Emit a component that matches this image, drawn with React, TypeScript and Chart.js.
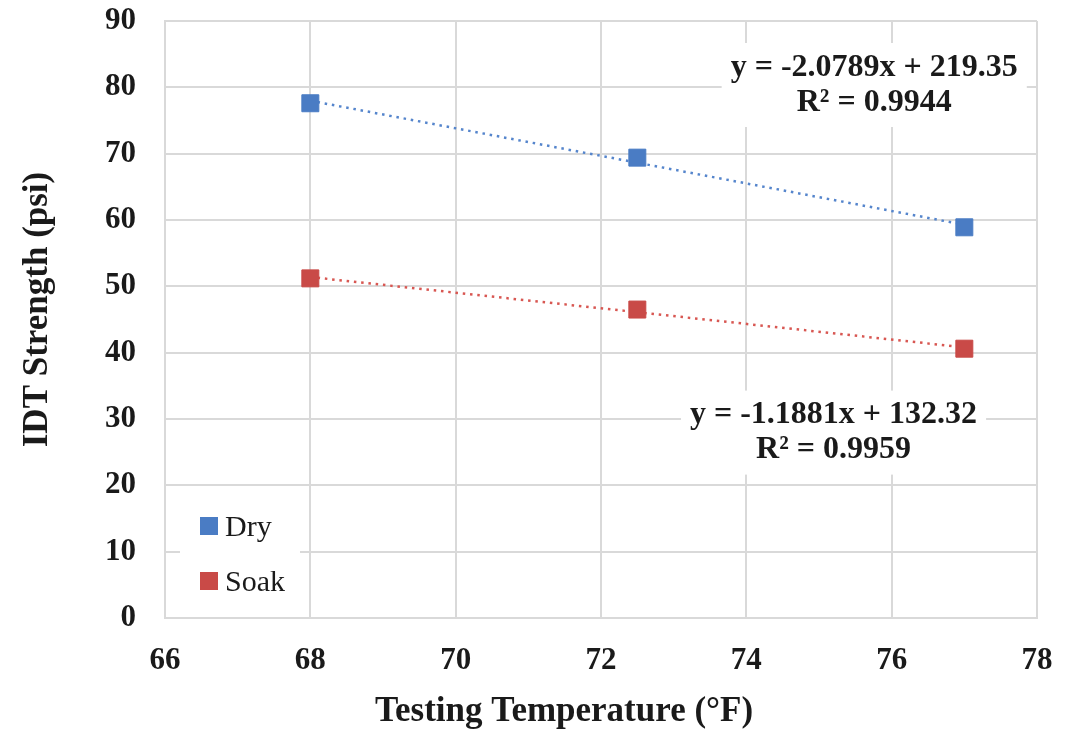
import React, { useEffect, useRef } from "react";
import { Chart, registerables } from "chart.js";

Chart.register(...registerables);

const temperatures = [68, 72.5, 77];
const dryStrength = [77.6, 69.4, 58.9];
const soakStrength = [51.2, 46.5, 40.6];
const xTicks = [66, 68, 70, 72, 74, 76, 78];
const yTicks = [0, 10, 20, 30, 40, 50, 60, 70, 80, 90];
const xTitle = "Testing Temperature (°F)";
const yTitle = "IDT Strength (psi)";
const dryEquation = ["y = -2.0789x + 219.35", "R² = 0.9944"];
const soakEquation = ["y = -1.1881x + 132.32", "R² = 0.9959"];

const DRY_COLOR = "#4a7cc4";
const SOAK_COLOR = "#c94a47";
const DRY_TREND = "#5585cc";
const SOAK_TREND = "#d85752";
const GRID = "#d9d9d9";
const TEXT = "#1a1a1a";
const SERIF = "'Liberation Serif', 'Times New Roman', serif";

function linearFit(xs: number[], ys: number[]) {
  const n = xs.length;
  const mx = xs.reduce((a, b) => a + b, 0) / n;
  const my = ys.reduce((a, b) => a + b, 0) / n;
  let sxy = 0;
  let sxx = 0;
  for (let i = 0; i < n; i++) {
    sxy += (xs[i] - mx) * (ys[i] - my);
    sxx += (xs[i] - mx) * (xs[i] - mx);
  }
  const slope = sxy / sxx;
  const intercept = my - slope * mx;
  return (x: number) => slope * x + intercept;
}

const overlayPlugin = {
  id: "overlay",
  beforeDatasetsDraw(chart: any) {
    const { ctx, scales } = chart;
    const labels = [
      { lines: dryEquation, x: 75.76, y: 80.35 },
      { lines: soakEquation, x: 75.2, y: 27.95 },
    ];
    ctx.save();
    ctx.font = `bold 32px ${SERIF}`;
    ctx.textAlign = "center";
    ctx.textBaseline = "middle";
    const lineGap = 35;
    labels.forEach((lab) => {
      const cx = scales.x.getPixelForValue(lab.x);
      const cy = scales.y.getPixelForValue(lab.y);
      const w = Math.max(...lab.lines.map((l) => ctx.measureText(l).width)) + 18;
      const h = lineGap * lab.lines.length + 14;
      ctx.fillStyle = "#ffffff";
      ctx.fillRect(cx - w / 2, cy - h / 2, w, h);
      ctx.fillStyle = TEXT;
      lab.lines.forEach((l, i) => {
        ctx.fillText(l, cx, cy + (i - (lab.lines.length - 1) / 2) * lineGap);
      });
    });

    // legend inside plot area
    const items = chart.data.datasets.filter((d: any) => d.showInLegend);
    const area = chart.chartArea;
    const bx = area.left + 15;
    const by = area.bottom - 123;
    const bw = 120;
    const bh = 110;
    ctx.fillStyle = "#ffffff";
    ctx.fillRect(bx, by, bw, bh);
    ctx.font = `30px ${SERIF}`;
    ctx.textAlign = "left";
    items.forEach((d: any, i: number) => {
      const cy = by + 31 + i * 55;
      ctx.fillStyle = d.backgroundColor;
      ctx.fillRect(bx + 20, cy - 9, 18, 18);
      ctx.fillStyle = TEXT;
      ctx.fillText(d.label, bx + 45, cy + 2);
    });

    // axis titles
    ctx.fillStyle = TEXT;
    ctx.font = `bold 35px ${SERIF}`;
    ctx.textAlign = "center";
    ctx.fillText(xTitle, chart.width / 2 + 26, chart.height - 18);
    ctx.translate(38, (area.top + area.bottom) / 2 - 10);
    ctx.rotate(-Math.PI / 2);
    ctx.fillText(yTitle, 0, 0);
    ctx.restore();
  },
};

export default function App() {
  const canvasRef = useRef<HTMLCanvasElement | null>(null);

  useEffect(() => {
    if (!canvasRef.current) return;
    const dryFit = linearFit(temperatures, dryStrength);
    const soakFit = linearFit(temperatures, soakStrength);
    const x0 = temperatures[0];
    const x1 = temperatures[temperatures.length - 1];

    const chart = new Chart(canvasRef.current, {
      type: "scatter",
      data: {
        datasets: [
          {
            label: "Dry",
            showInLegend: true,
            data: temperatures.map((t, i) => ({ x: t, y: dryStrength[i] })),
            backgroundColor: DRY_COLOR,
            borderColor: DRY_COLOR,
            pointStyle: "rect",
            pointRadius: 12,
            borderWidth: 1,
            order: 0,
          } as any,
          {
            label: "Soak",
            showInLegend: true,
            data: temperatures.map((t, i) => ({ x: t, y: soakStrength[i] })),
            backgroundColor: SOAK_COLOR,
            borderColor: SOAK_COLOR,
            pointStyle: "rect",
            pointRadius: 12,
            borderWidth: 1,
            order: 0,
          } as any,
          {
            label: "Dry trend",
            data: [
              { x: x0, y: dryFit(x0) },
              { x: x1, y: dryFit(x1) },
            ],
            showLine: true,
            borderColor: DRY_TREND,
            borderWidth: 2.5,
            borderDash: [2.5, 4.8],
            pointRadius: 0,
            fill: false,
            order: 1,
          } as any,
          {
            label: "Soak trend",
            data: [
              { x: x0, y: soakFit(x0) },
              { x: x1, y: soakFit(x1) },
            ],
            showLine: true,
            borderColor: SOAK_TREND,
            borderWidth: 2.5,
            borderDash: [2.5, 4.8],
            pointRadius: 0,
            fill: false,
            order: 1,
          } as any,
        ],
      },
      options: {
        responsive: false,
        animation: false,
        layout: { padding: { left: 20, right: 39, top: 21, bottom: 0 } },
        plugins: {
          legend: { display: false },
          tooltip: { enabled: false },
        },
        scales: {
          x: {
            type: "linear",
            min: xTicks[0],
            max: xTicks[xTicks.length - 1],
            afterBuildTicks: (scale: any) => {
              scale.ticks = xTicks.map((v) => ({ value: v }));
            },
            afterFit: (scale: any) => {
              scale.height = 112;
              scale.paddingLeft = 0;
              scale.paddingRight = 0;
            },
            grid: { color: GRID, lineWidth: 2, drawTicks: false },
            border: { color: GRID, width: 2 },
            ticks: {
              color: TEXT,
              padding: 24,
              font: { family: SERIF, size: 31, weight: "bold" },
            },
            title: { display: false, text: xTitle },
          },
          y: {
            type: "linear",
            min: yTicks[0],
            max: yTicks[yTicks.length - 1],
            afterBuildTicks: (scale: any) => {
              scale.ticks = yTicks.map((v) => ({ value: v }));
            },
            afterFit: (scale: any) => {
              scale.width = 145;
              scale.paddingTop = 0;
              scale.paddingBottom = 0;
            },
            grid: { color: GRID, lineWidth: 2, drawTicks: false },
            border: { color: GRID, width: 2 },
            ticks: {
              color: TEXT,
              padding: 29,
              font: { family: SERIF, size: 31, weight: "bold" },
            },
            title: { display: false, text: yTitle },
          },
        },
      } as any,
      plugins: [overlayPlugin],
    });
    return () => chart.destroy();
  }, []);

  return (
    <div style={{ position: "fixed", left: 0, top: 0, width: 1076, height: 730, background: "#ffffff" }}>
      <canvas ref={canvasRef} width={1076} height={730} />
    </div>
  );
}
